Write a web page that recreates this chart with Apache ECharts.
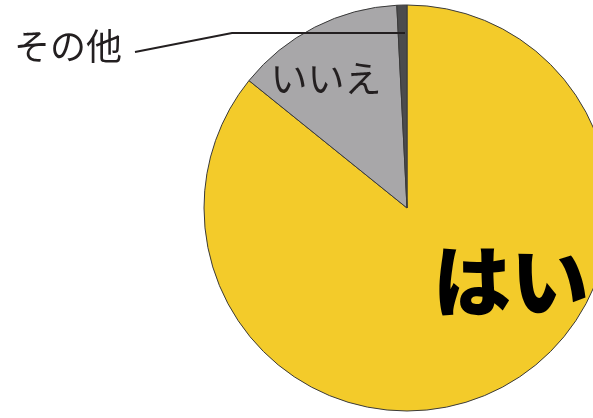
<!DOCTYPE html>
<html>
<head>
<meta charset="utf-8">
<script src="https://cdn.jsdelivr.net/npm/echarts@6/dist/echarts.min.js"></script>
<style>html,body{margin:0;padding:0;background:#fff}#c{width:593px;height:418px}</style>
</head>
<body>
<div id="c"></div>
<script>
const categories = ['はい', 'いいえ', 'その他'];
const values = [85.8, 13.4, 0.8];
const colors = ['#F3CB2A', '#A8A7A9', '#4B4B4D'];

const CX = 407, CY = 208, R = 203;
const chart = echarts.init(document.getElementById('c'));

const labelStyles = [
  { position: 'inner', fontSize: 78, fontWeight: 900, color: '#000' },
  { position: 'inner', fontSize: 37, fontWeight: 'normal', color: '#231f20' },
  { position: 'outside', fontSize: 36, fontWeight: 'normal', color: '#231f20' }
];

function layout(p) {
  if (p.dataIndex === 0) {
    return { x: CX + 104, y: CY + 73, align: 'center', verticalAlign: 'middle' };
  }
  if (p.dataIndex === 1) {
    return { x: CX - 81, y: CY - 129, align: 'center', verticalAlign: 'middle' };
  }
  return {
    x: CX - 285, y: CY - 162, align: 'right', verticalAlign: 'middle',
    labelLinePoints: [[CX - 2, CY - 175], [CX - 175, CY - 175], [CX - 272, CY - 156]]
  };
}

chart.setOption({
  backgroundColor: '#fff',
  animation: false,
  series: [{
    type: 'pie',
    z: 2,
    center: [CX, CY],
    radius: [0, R],
    startAngle: 90,
    clockwise: true,
    avoidLabelOverlap: false,
    itemStyle: { borderColor: '#3a3a3a', borderWidth: 1 },
    label: { fontFamily: 'Noto Sans CJK JP', formatter: '{b}' },
    data: categories.map((name, i) => ({
      name: name,
      value: values[i],
      itemStyle: { color: colors[i] },
      label: Object.assign({ show: i !== 2 }, labelStyles[i]),
      labelLine: { show: false }
    })),
    labelLayout: layout
  }, {
    type: 'pie',
    z: 5,
    silent: true,
    center: [CX, CY],
    radius: [0, R],
    startAngle: 90,
    clockwise: true,
    avoidLabelOverlap: false,
    itemStyle: { color: 'rgba(0,0,0,0)', borderWidth: 0 },
    label: { fontFamily: 'Noto Sans CJK JP', formatter: '{b}' },
    labelLine: { lineStyle: { color: '#231f20', width: 2 }, length: 20, length2: 20 },
    data: categories.map((name, i) => ({
      name: name,
      value: values[i],
      label: Object.assign({ show: i === 2 }, labelStyles[i]),
      labelLine: { show: i === 2 }
    })),
    labelLayout: layout
  }]
});
</script>
</body>
</html>
